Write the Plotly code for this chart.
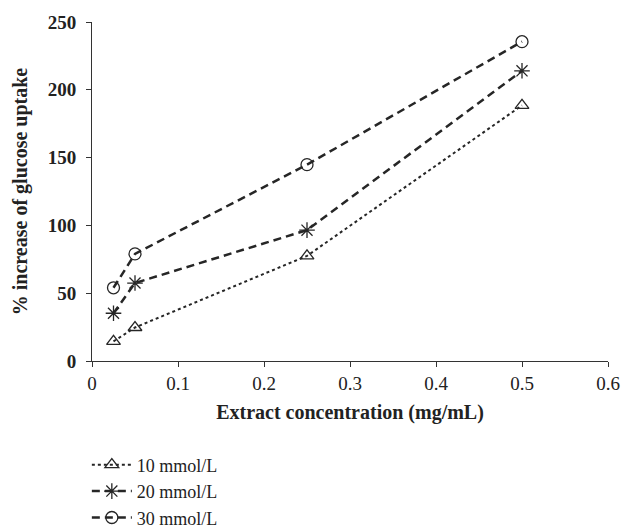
import plotly.graph_objects as go

conc = [0.025, 0.05, 0.25, 0.5]
series_names = ["10 mmol/L", "20 mmol/L", "30 mmol/L"]
uptake_10 = [14.5, 24.7, 77.5, 188.5]
uptake_20 = [35.2, 57.5, 96.5, 214]
uptake_30 = [54, 79, 144.8, 235.5]
x_ticks = [0, 0.1, 0.2, 0.3, 0.4, 0.5, 0.6]
x_tick_text = ["0", "0.1", "0.2", "0.3", "0.4", "0.5", "0.6"]
y_ticks = [0, 50, 100, 150, 200, 250]

FONT = "Liberation Serif"
C = "#262626"

fig = go.Figure()
styles = [
    (uptake_10, "dot", 2, "triangle-up-open", 12),
    (uptake_20, "8px,5px", 2.5, "asterisk-open", 13),
    (uptake_30, "8px,5px", 2.5, "circle-open", 12),
]
for name, (vals, dash, w, sym, sz) in zip(series_names, styles):
    fig.add_trace(go.Scatter(
        x=conc, y=vals, name=name, mode="lines+markers",
        line=dict(color=C, width=w, dash=dash),
        marker=dict(symbol=sym, size=sz, color=C, line=dict(color=C, width=1.3)),
    ))

fig.update_layout(
    width=633, height=529,
    margin=dict(l=92, r=25, t=16, b=168),
    paper_bgcolor="white", plot_bgcolor="white",
    font=dict(family=FONT, size=20, color="#222"),
    showlegend=True,
    legend=dict(x=-0.01, xanchor="left", yref="container", y=0.156, yanchor="top",
                font=dict(family=FONT, size=18, color="#222"),
                tracegroupgap=0, itemwidth=40, bgcolor="rgba(0,0,0,0)"),
    xaxis=dict(range=[0, 0.6], tickvals=x_ticks, ticktext=x_tick_text,
               showgrid=False, zeroline=False, showline=True, linecolor="#333", linewidth=1,
               ticks="outside", ticklen=5, tickcolor="#333",
               tickfont=dict(family=FONT, size=19, color="#222"),
               title=dict(text="Extract concentration (mg/mL)", standoff=12,
                          font=dict(family=FONT, size=20, color="#222", weight="bold"))),
    yaxis=dict(range=[0, 250], tickvals=y_ticks,
               showgrid=False, zeroline=False, showline=True, linecolor="#333", linewidth=1,
               ticks="outside", ticklen=5, tickcolor="#333", ticklabelstandoff=6,
               tickfont=dict(family=FONT, size=19, color="#222", weight="bold"),
               title=dict(text="% increase of glucose uptake", standoff=14,
                          font=dict(family=FONT, size=20, color="#222", weight="bold"))),
)

fig.write_html("out.html")
